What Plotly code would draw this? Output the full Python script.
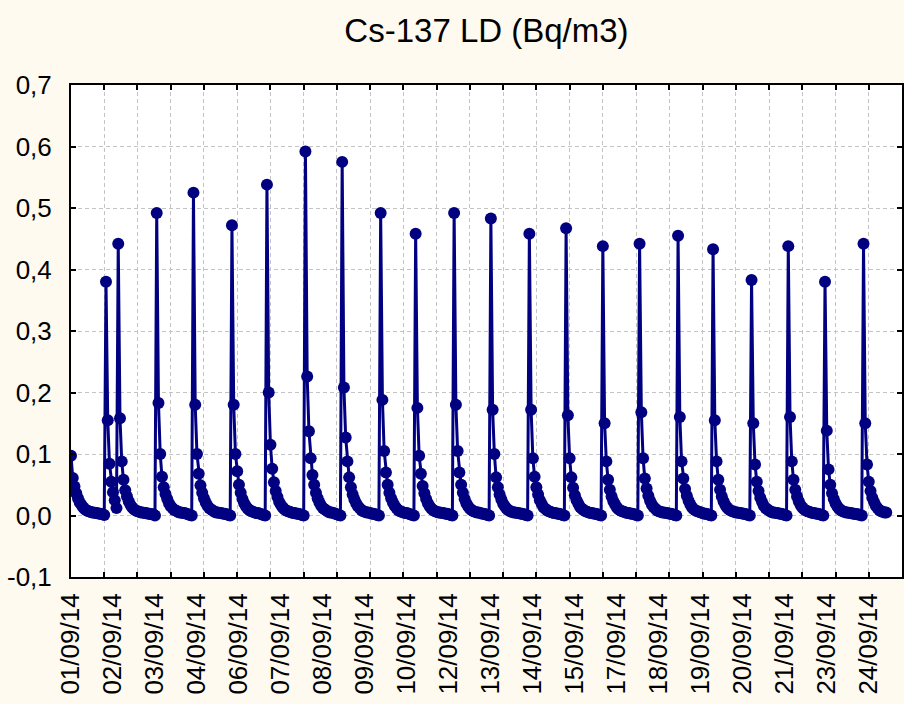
import plotly.graph_objects as go

# ---- data (Cs-137 LD, Bq/m3), one list per cycle ----
cyc00 = [0.097, 0.061, 0.047, 0.036, 0.028, 0.021, 0.017, 0.013, 0.010, 0.008,
         0.007, 0.006, 0.005, 0.005, 0.004, 0.004, 0.003, 0.003, 0.002, 0.001]
cyc01 = [0.380, 0.155, 0.084, 0.055, 0.038, 0.025, 0.012]
cyc02 = [0.442, 0.158, 0.088, 0.058, 0.041, 0.031, 0.023, 0.017, 0.013, 0.010, 0.008,
         0.007, 0.006, 0.005, 0.005, 0.004, 0.004, 0.003, 0.003, 0.002, 0.002, 0.000]
cyc03 = [0.492, 0.183, 0.100, 0.063, 0.046, 0.035, 0.027, 0.020, 0.015, 0.012, 0.009,
         0.008, 0.006, 0.005, 0.005, 0.004, 0.004, 0.003, 0.002, 0.001, 0.000]
cyc04 = [0.525, 0.180, 0.100, 0.068, 0.049, 0.037, 0.028, 0.021, 0.016, 0.012, 0.010,
         0.008, 0.006, 0.005, 0.005, 0.004, 0.004, 0.003, 0.003, 0.002, 0.001, 0.000]
cyc05 = [0.472, 0.180, 0.100, 0.072, 0.050, 0.037, 0.027, 0.020, 0.015, 0.011, 0.009,
         0.007, 0.006, 0.005, 0.004, 0.004, 0.003, 0.002, 0.001, 0.000]
cyc06 = [0.538, 0.200, 0.115, 0.076, 0.054, 0.040, 0.030, 0.022, 0.017, 0.013, 0.010,
         0.008, 0.007, 0.006, 0.005, 0.004, 0.004, 0.003, 0.003, 0.002, 0.001, 0.000]
cyc07 = [0.592, 0.226, 0.137, 0.093, 0.066, 0.050, 0.037, 0.028, 0.021, 0.016, 0.012,
         0.010, 0.008, 0.006, 0.005, 0.005, 0.004, 0.003, 0.002, 0.001, 0.000]
cyc08 = [0.575, 0.208, 0.127, 0.088, 0.062, 0.046, 0.034, 0.026, 0.020, 0.015, 0.012,
         0.009, 0.007, 0.006, 0.005, 0.005, 0.004, 0.003, 0.003, 0.002, 0.001, 0.000]
cyc09 = [0.492, 0.188, 0.105, 0.070, 0.050, 0.037, 0.028, 0.021, 0.016, 0.012, 0.009,
         0.007, 0.006, 0.005, 0.004, 0.004, 0.003, 0.002, 0.001, 0.000]
cyc10 = [0.458, 0.175, 0.097, 0.068, 0.048, 0.036, 0.027, 0.020, 0.015, 0.011, 0.009,
         0.007, 0.006, 0.005, 0.005, 0.004, 0.004, 0.003, 0.003, 0.002, 0.001, 0.000]
cyc11 = [0.492, 0.180, 0.105, 0.070, 0.050, 0.037, 0.027, 0.020, 0.015, 0.011, 0.009,
         0.007, 0.006, 0.005, 0.005, 0.004, 0.003, 0.003, 0.002, 0.001, 0.000]
cyc12 = [0.483, 0.172, 0.100, 0.062, 0.046, 0.034, 0.026, 0.019, 0.015, 0.011, 0.009,
         0.007, 0.006, 0.005, 0.005, 0.004, 0.004, 0.003, 0.003, 0.002, 0.001, 0.000]
cyc13 = [0.458, 0.172, 0.093, 0.063, 0.046, 0.034, 0.025, 0.019, 0.014, 0.011, 0.009,
         0.007, 0.006, 0.005, 0.004, 0.004, 0.003, 0.003, 0.002, 0.001, 0.000]
cyc14 = [0.467, 0.163, 0.093, 0.062, 0.045, 0.033, 0.025, 0.019, 0.014, 0.011, 0.009,
         0.007, 0.006, 0.005, 0.004, 0.004, 0.003, 0.003, 0.002, 0.001, 0.000]
cyc15 = [0.438, 0.150, 0.088, 0.058, 0.042, 0.031, 0.023, 0.018, 0.013, 0.010, 0.008,
         0.007, 0.006, 0.005, 0.004, 0.004, 0.003, 0.003, 0.002, 0.001, 0.000]
cyc16 = [0.442, 0.168, 0.093, 0.060, 0.044, 0.032, 0.024, 0.018, 0.014, 0.011, 0.008,
         0.007, 0.006, 0.005, 0.005, 0.004, 0.004, 0.003, 0.003, 0.002, 0.001, 0.000]
cyc17 = [0.455, 0.160, 0.088, 0.060, 0.043, 0.032, 0.024, 0.018, 0.013, 0.010, 0.008,
         0.007, 0.006, 0.005, 0.004, 0.003, 0.003, 0.002, 0.001, 0.000]
cyc18 = [0.433, 0.155, 0.088, 0.058, 0.042, 0.031, 0.023, 0.017, 0.013, 0.010, 0.008,
         0.007, 0.006, 0.005, 0.005, 0.004, 0.004, 0.003, 0.003, 0.002, 0.001, 0.000]
cyc19 = [0.383, 0.150, 0.083, 0.055, 0.040, 0.029, 0.022, 0.016, 0.012, 0.010, 0.008,
         0.006, 0.005, 0.005, 0.004, 0.004, 0.003, 0.003, 0.002, 0.001, 0.000]
cyc20 = [0.438, 0.160, 0.088, 0.058, 0.042, 0.031, 0.023, 0.017, 0.013, 0.010, 0.008,
         0.007, 0.006, 0.005, 0.004, 0.004, 0.003, 0.003, 0.002, 0.001, 0.000]
cyc21 = [0.380, 0.138, 0.075, 0.050, 0.036, 0.027, 0.020, 0.015, 0.011, 0.009, 0.007,
         0.006, 0.005, 0.005, 0.004, 0.004, 0.003, 0.003, 0.002, 0.002, 0.001, 0.000]
cyc22 = [0.442, 0.150, 0.083, 0.055, 0.040, 0.029, 0.022, 0.016, 0.012, 0.009, 0.007,
         0.006, 0.005, 0.005]

date_labels = ["01/09/14", "02/09/14", "03/09/14", "04/09/14", "06/09/14",
               "07/09/14", "08/09/14", "09/09/14", "10/09/14", "12/09/14",
               "13/09/14", "14/09/14", "15/09/14", "17/09/14", "18/09/14",
               "19/09/14", "20/09/14", "21/09/14", "23/09/14", "24/09/14"]
label_cases = [0, 24, 48, 72, 96, 120, 144, 168, 192, 216,
               240, 264, 288, 312, 336, 360, 384, 408, 432, 456]
y_ticks = [-0.1, 0.0, 0.1, 0.2, 0.3, 0.4, 0.5, 0.6, 0.7]
y_labels = ["-0,1", "0,0", "0,1", "0,2", "0,3", "0,4", "0,5", "0,6", "0,7"]

values = (cyc00 + cyc01 + cyc02 + cyc03 + cyc04 + cyc05 + cyc06 + cyc07 + cyc08 +
          cyc09 + cyc10 + cyc11 + cyc12 + cyc13 + cyc14 + cyc15 + cyc16 + cyc17 +
          cyc18 + cyc19 + cyc20 + cyc21 + cyc22)
cases = list(range(len(values)))

NAVY = "#000080"
FONT = "Liberation Sans, Arial, sans-serif"
GRID = "#C4C4C4"
XR = [0, 475]

fig = go.Figure()
fig.add_trace(go.Scatter(
    x=cases, y=values, mode="lines+markers",
    line=dict(color=NAVY, width=3),
    marker=dict(color=NAVY, size=12),
    hoverinfo="x+y", showlegend=False))
# carrier trace for the date label axis
fig.add_trace(go.Scatter(
    x=label_cases, y=[None] * len(label_cases), xaxis="x2", mode="markers",
    hoverinfo="skip", showlegend=False))

fig.update_layout(
    width=904, height=704,
    margin=dict(l=71, r=0, t=85, b=127),
    paper_bgcolor="#FEFAF0", plot_bgcolor="white",
    font=dict(family=FONT, color="black"),
    title=dict(text="Cs-137 LD (Bq/m3)", x=0.5, xref="paper", xanchor="center",
               y=0.957, yref="container", yanchor="middle",
               font=dict(size=33, family=FONT, color="black")),
    xaxis=dict(range=XR, tickmode="linear", tick0=0, dtick=19,
               showticklabels=False, ticks="inside", ticklen=5, tickwidth=2,
               tickcolor="black", showline=True, linewidth=2, linecolor="black",
               mirror="ticks", showgrid=True, gridcolor=GRID, gridwidth=1,
               griddash="4px,3px", zeroline=False),
    xaxis2=dict(range=XR, overlaying="x", anchor="y", side="bottom",
                tickmode="array", tickvals=label_cases, ticktext=date_labels,
                tickangle=-90, ticks="outside", ticklen=5,
                tickcolor="rgba(0,0,0,0)", showgrid=False, showline=False,
                zeroline=False, tickfont=dict(size=26, family=FONT, color="black")),
    yaxis=dict(range=[-0.1, 0.7], tickmode="array", tickvals=y_ticks,
               ticktext=y_labels, ticks="inside", ticklen=5, tickwidth=2,
               tickcolor="black", showline=True, linewidth=2, linecolor="black",
               mirror="ticks", showgrid=True, gridcolor=GRID, gridwidth=1,
               griddash="4px,3px", zeroline=False, ticklabelstandoff=12,
               tickfont=dict(size=26, family=FONT, color="black")),
)

fig.write_html("out.html")
